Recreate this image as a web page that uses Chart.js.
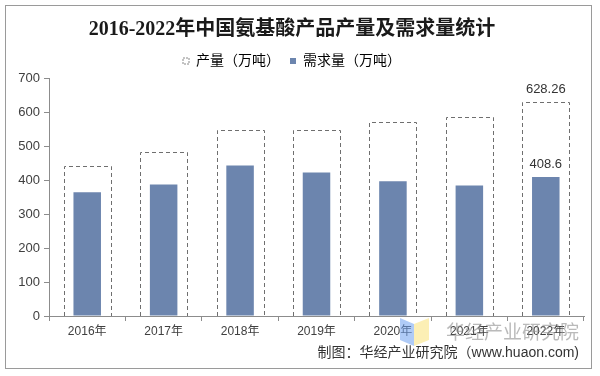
<!DOCTYPE html>
<html lang="zh">
<head>
<meta charset="UTF-8">
<title>2016-2022年中国氨基酸产品产量及需求量统计</title>
<script src="https://cdn.jsdelivr.net/npm/chart.js"></script>
<style>
    body { margin: 0; background: #fff; }
    #wrap { width: 600px; height: 376px; }
</style>
</head>
<body>
<div id="wrap"><canvas id="grafica" width="600" height="376"></canvas></div>
<script>
// datos
const years = ['2016年', '2017年', '2018年', '2019年', '2020年', '2021年', '2022年'];
const production = [440, 483, 547, 547, 570, 585, 628.26];
const demand = [364, 387, 443, 422, 396, 384, 408.6];
const yTicks = [0, 100, 200, 300, 400, 500, 600, 700];

const SANS = '"Liberation Sans", "Noto Sans CJK SC", sans-serif';
const AZUL = '#6c85ae';
const GRIS = '#8c8c8c';

// fondo, marco, pie y marca de agua
const marco = {
    id: 'marco',
    beforeDraw(chart) {
        const ctx = chart.ctx;
        ctx.save();
        ctx.fillStyle = '#fff';
        ctx.fillRect(0, 0, chart.width, chart.height);
        ctx.restore();
    },
    afterDraw(chart) {
        const ctx = chart.ctx;
        ctx.save();
        ctx.strokeStyle = '#9a9a9a';
        ctx.lineWidth = 1;
        ctx.strokeRect(5.5, 5.5, 586, 363);

        // logo de la marca de agua
        ctx.fillStyle = 'rgba(110,160,240,0.55)';
        ctx.beginPath();
        ctx.moveTo(400, 318); ctx.lineTo(414, 324); ctx.lineTo(414, 346); ctx.lineTo(400, 340);
        ctx.fill();
        ctx.fillStyle = 'rgba(250,225,120,0.55)';
        ctx.beginPath();
        ctx.moveTo(414, 324); ctx.lineTo(429, 318); ctx.lineTo(429, 340); ctx.lineTo(414, 346);
        ctx.fill();

        ctx.font = '19px "Noto Sans CJK SC", sans-serif';
        ctx.fillStyle = 'rgba(140,140,140,0.6)';
        ctx.textAlign = 'right';
        ctx.textBaseline = 'middle';
        ctx.fillText('华经产业研究院', 579, 332);

        ctx.font = '14px ' + SANS;
        ctx.fillStyle = '#333';
        ctx.fillText('制图：华经产业研究院（www.huaon.com)', 579, 353);
        ctx.restore();
    }
};

// barras de producción con borde discontinuo y etiquetas de 2022
const cajaPunteada = {
    id: 'cajaPunteada',
    afterDatasetsDraw(chart) {
        const ctx = chart.ctx;
        const meta = chart.getDatasetMeta(0);
        ctx.save();
        ctx.setLineDash([4, 3]);
        ctx.strokeStyle = '#6f6f6f';
        ctx.lineWidth = 1;
        meta.data.forEach(bar => {
            const p = bar.getProps(['x', 'y', 'width', 'base'], true);
            const l = Math.round(p.x - p.width / 2) + 0.5;
            const r = Math.round(p.x + p.width / 2) + 0.5;
            const t = Math.round(p.y) + 0.5;
            const b = Math.round(p.base);
            ctx.beginPath();
            ctx.moveTo(l, b);
            ctx.lineTo(l, t);
            ctx.lineTo(r, t);
            ctx.lineTo(r, b);
            ctx.stroke();
        });
        ctx.setLineDash([]);

        const last = years.length - 1;
        ctx.font = '13px ' + SANS;
        ctx.fillStyle = '#333';
        ctx.textAlign = 'center';
        ctx.textBaseline = 'middle';
        const pb = chart.getDatasetMeta(0).data[last];
        ctx.fillText(String(production[last]), pb.x, pb.y - 13);
        const db = chart.getDatasetMeta(1).data[last];
        ctx.fillText(String(demand[last]), db.x, db.y - 13);
        ctx.restore();
    }
};

const ctx = document.getElementById('grafica').getContext('2d');
new Chart(ctx, {
    type: 'bar',
    data: {
        labels: years,
        datasets: [
            {
                label: '产量（万吨）',
                data: production,
                backgroundColor: 'rgba(0,0,0,0)',
                borderWidth: 0,
                grouped: false,
                barPercentage: 0.615,
                categoryPercentage: 1
            },
            {
                label: '需求量（万吨）',
                data: demand,
                backgroundColor: AZUL,
                borderWidth: 0,
                grouped: false,
                barPercentage: 0.36,
                categoryPercentage: 1
            }
        ]
    },
    options: {
        responsive: false,
        devicePixelRatio: 1,
        animation: false,
        layout: { padding: { top: 5, left: 0, right: 16, bottom: 5 } },
        plugins: {
            title: {
                display: true,
                text: '2016-2022年中国氨基酸产品产量及需求量统计',
                color: '#1a1a1a',
                font: { size: 20, weight: 'bold', family: '"Liberation Serif", "Noto Sans CJK SC", serif' },
                padding: { top: 13, bottom: 2 }
            },
            legend: {
                position: 'top',
                labels: {
                    font: { size: 14, family: SANS },
                    color: '#404040',
                    boxWidth: 6,
                    boxHeight: 6,
                    padding: 10,
                    generateLabels() {
                        return [
                            { text: '产量（万吨）', fillStyle: '#fff', strokeStyle: '#888', lineWidth: 1, lineDash: [2, 1], datasetIndex: 0 },
                            { text: '需求量（万吨）', fillStyle: AZUL, strokeStyle: AZUL, lineWidth: 0, datasetIndex: 1 }
                        ];
                    }
                }
            },
            tooltip: { enabled: false }
        },
        scales: {
            x: {
                offset: true,
                grid: { display: true, drawOnChartArea: false, drawTicks: true, tickLength: 5, color: GRIS, offset: true },
                border: { color: GRIS },
                ticks: { font: { size: 12, family: SANS }, color: '#404040', padding: 3 },
                afterFit(s) { s.height = 55; }
            },
            y: {
                min: 0,
                max: 700,
                afterBuildTicks(s) { s.ticks = yTicks.map(v => ({ value: v })); },
                grid: { drawOnChartArea: false, drawTicks: true, tickLength: 5, color: GRIS },
                border: { color: GRIS },
                ticks: { font: { size: 13, family: SANS }, color: '#404040', padding: 4 },
                afterFit(s) { s.width = 49; }
            }
        }
    },
    plugins: [marco, cajaPunteada]
});
</script>
</body>
</html>
